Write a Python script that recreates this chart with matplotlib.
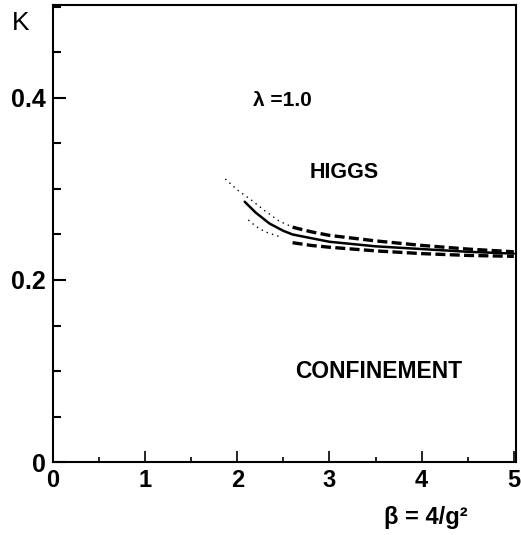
import matplotlib
matplotlib.use('Agg')
import matplotlib.pyplot as plt
from matplotlib.ticker import MultipleLocator, FixedLocator

plt.rcParams['font.family'] = ['Liberation Sans', 'DejaVu Sans']

# solid transition line (middle)
solid_x = [2.08, 2.2, 2.35, 2.5, 2.6, 2.8, 3.0, 3.5, 4.0, 4.5, 5.0]
solid_k = [0.286, 0.274, 0.262, 0.254, 0.250, 0.246, 0.242, 0.237, 0.234, 0.231, 0.229]

# upper error band: dotted part then dashed part
upper_dot_x = [1.87, 2.0, 2.15, 2.3, 2.45, 2.6]
upper_dot_k = [0.311, 0.299, 0.288, 0.276, 0.265, 0.258]
upper_dash_x = [2.6, 2.8, 3.0, 3.5, 4.0, 4.5, 5.0]
upper_dash_k = [0.258, 0.253, 0.249, 0.243, 0.238, 0.234, 0.231]

# lower error band
lower_dot_x = [2.12, 2.2, 2.3, 2.45]
lower_dot_k = [0.266, 0.259, 0.253, 0.248]
lower_dash_x = [2.6, 2.8, 3.0, 3.5, 4.0, 4.5, 5.0]
lower_dash_k = [0.241, 0.238, 0.236, 0.232, 0.229, 0.227, 0.226]

x_ticks = [0, 1, 2, 3, 4, 5]
y_ticks = [0, 0.2, 0.4]
y_labels = ['0', '0.2', '0.4']

fig = plt.figure( figsize=(5.21, 5.35), dpi=100 )
ax = fig.add_axes( [0.1017, 0.1364, 0.888, 0.854] )

ax.plot( solid_x, solid_k, color='black', lw=1.8, solid_capstyle='round' )
ax.plot( upper_dot_x, upper_dot_k, color='black', lw=1.0, linestyle=(0, (1, 3)) )
ax.plot( lower_dot_x, lower_dot_k, color='black', lw=1.0, linestyle=(0, (1, 3)) )
ax.plot( upper_dash_x, upper_dash_k, color='black', lw=2.4, linestyle=(0, (3, 1.3)) )
ax.plot( lower_dash_x, lower_dash_k, color='black', lw=2.4, linestyle=(0, (3, 1.3)) )

ax.set_xlim( 0, 5.02 )
ax.set_ylim( 0, 0.502 )

ax.xaxis.set_major_locator( FixedLocator( x_ticks ) )
ax.xaxis.set_minor_locator( MultipleLocator( 0.5 ) )
ax.yaxis.set_major_locator( FixedLocator( y_ticks ) )
ax.yaxis.set_minor_locator( MultipleLocator( 0.05 ) )
ax.set_yticklabels( y_labels )

ax.tick_params( axis='x', which='major', direction='in', length=8, width=1.2, labelsize=17, pad=5 )
ax.tick_params( axis='x', which='minor', direction='in', length=3.5, width=1.2 )
ax.tick_params( axis='y', which='major', direction='in', length=9.5, width=1.5, labelsize=18, pad=5 )
ax.tick_params( axis='y', which='minor', direction='in', length=6, width=1.5 )
for lbl in ax.get_xticklabels() + ax.get_yticklabels():
    lbl.set_fontweight( 'bold' )

for s in ax.spines.values():
    s.set_linewidth( 1.5 )

fig.text( 0.022, 0.957, 'K', fontsize=19, ha='left', va='center' )
ax.text( 2.17, 0.397, 'λ =1.0', fontsize=15, ha='left', va='center', fontweight='bold' )
ax.text( 2.78, 0.318, 'HIGGS', fontsize=15.5, ha='left', va='center', fontweight='bold' )
ax.text( 2.63, 0.1, 'CONFINEMENT', fontsize=16.5, ha='left', va='center', fontweight='bold' )
fig.text( 0.738, 0.033, 'β = 4/g²', fontsize=17, ha='left', va='center', fontweight='bold' )

plt.savefig( 'out.png', dpi=100 )
